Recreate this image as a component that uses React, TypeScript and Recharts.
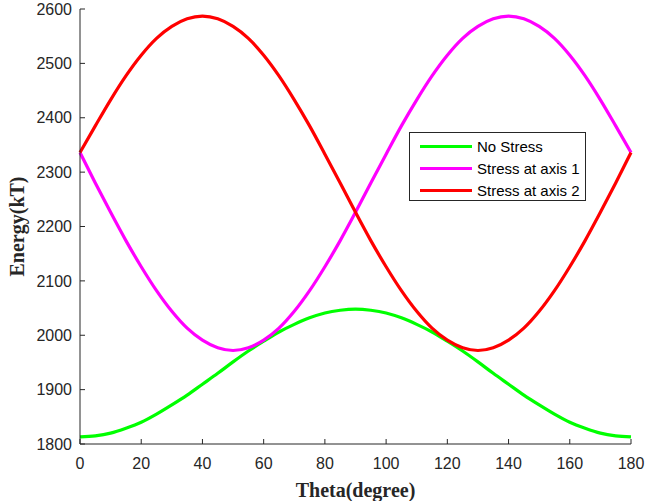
import React from "react";
import { LineChart, Line, XAxis, YAxis, Legend } from "recharts";

// theta in degrees, sampled every 5 degrees
const thetas = [
  0, 5, 10, 15, 20, 25, 30, 35, 40, 45, 50, 55, 60, 65, 70, 75, 80, 85, 90,
  95, 100, 105, 110, 115, 120, 125, 130, 135, 140, 145, 150, 155, 160, 165,
  170, 175, 180,
];

const noStress = [
  1813, 1815, 1820, 1829, 1840, 1855, 1872, 1890, 1910, 1930, 1951, 1971,
  1989, 2006, 2020, 2032, 2041, 2046, 2048, 2046, 2041, 2032, 2020, 2006,
  1989, 1971, 1951, 1930, 1910, 1890, 1872, 1855, 1840, 1829, 1820, 1815,
  1813,
];

const stressAxis1 = [
  2336, 2280, 2226, 2174, 2126, 2082, 2044, 2013, 1991, 1977, 1972, 1977,
  1991, 2013, 2044, 2082, 2126, 2174, 2226, 2280, 2333, 2385, 2433, 2477,
  2515, 2546, 2568, 2582, 2587, 2582, 2568, 2546, 2515, 2477, 2433, 2385,
  2336,
];

const stressAxis2 = [
  2336, 2385, 2433, 2477, 2515, 2546, 2568, 2582, 2587, 2582, 2568, 2546,
  2515, 2477, 2433, 2385, 2333, 2280, 2226, 2174, 2126, 2082, 2044, 2013,
  1991, 1977, 1972, 1977, 1991, 2013, 2044, 2082, 2126, 2174, 2226, 2280,
  2336,
];

const xTicks = [0, 20, 40, 60, 80, 100, 120, 140, 160, 180];
const yTicks = [1800, 1900, 2000, 2100, 2200, 2300, 2400, 2500, 2600];

const seriesNames = ["No Stress", "Stress at axis 1", "Stress at axis 2"];
const seriesColors = ["#00ff00", "#ff00ff", "#ff0000"];

const data = thetas.map((t, i) => ({
  theta: t,
  none: noStress[i],
  ax1: stressAxis1[i],
  ax2: stressAxis2[i],
}));

const axisColor = "#262626";
const tickFont = {
  fontFamily: "'Liberation Sans', Arial, sans-serif",
  fontSize: 16,
  fill: "#262626",
};
const labelFont = {
  fontFamily: "'Liberation Serif', 'Times New Roman', serif",
  fontWeight: "bold",
  fontSize: 20,
  fill: "#262626",
};

function BoxLegend() {
  return (
    <div
      style={{
        border: "1px solid #262626",
        background: "#fff",
        width: 177,
        height: 69,
        boxSizing: "border-box",
        paddingTop: 3,
        fontFamily: "'Liberation Sans', Arial, sans-serif",
        fontSize: 15,
        color: "#000",
      }}
    >
      {seriesNames.map((n, i) => (
        <div
          key={n}
          style={{ display: "flex", alignItems: "center", height: 21.7 }}
        >
          <div
            style={{
              width: 52,
              height: 3,
              background: seriesColors[i],
              marginLeft: 10,
              marginRight: 5,
            }}
          />
          <span>{n}</span>
        </div>
      ))}
    </div>
  );
}

export default function App() {
  return (
    <div style={{ position: "absolute", left: 0, top: 0, background: "#fff" }}>
      <LineChart
        width={647}
        height={501}
        data={data}
        margin={{ top: 9, right: 16, bottom: 0, left: 0 }}
      >
        <XAxis
          dataKey="theta"
          type="number"
          domain={[0, 180]}
          ticks={xTicks}
          interval={0}
          tick={tickFont}
          tickSize={-5}
          tickMargin={19}
          stroke={axisColor}
          height={57}
          label={{
            value: "Theta(degree)",
            position: "insideBottom",
            offset: 4,
            style: labelFont,
          }}
        />
        <XAxis
          xAxisId="top"
          dataKey="theta"
          type="number"
          orientation="top"
          domain={[0, 180]}
          ticks={xTicks}
          interval={0}
          tick={false}
          tickSize={-5}
          stroke={axisColor}
          height={0}
        />
        <YAxis
          type="number"
          domain={[1800, 2600]}
          ticks={yTicks}
          interval={0}
          tick={tickFont}
          tickSize={-5}
          tickMargin={13}
          stroke={axisColor}
          width={80}
          label={{
            value: "Energy(kT)",
            angle: -90,
            position: "insideLeft",
            offset: 17,
            style: { ...labelFont, textAnchor: "middle" },
          }}
        />
        <YAxis
          yAxisId="right"
          type="number"
          orientation="right"
          domain={[1800, 2600]}
          ticks={yTicks}
          interval={0}
          tick={false}
          tickSize={-5}
          stroke={axisColor}
          width={0}
        />
        <Line
          type="monotone"
          dataKey="none"
          name={seriesNames[0]}
          stroke={seriesColors[0]}
          strokeWidth={3.2}
          dot={false}
          isAnimationActive={false}
        />
        <Line
          type="monotone"
          dataKey="ax1"
          name={seriesNames[1]}
          stroke={seriesColors[1]}
          strokeWidth={3.2}
          dot={false}
          isAnimationActive={false}
        />
        <Line
          type="monotone"
          dataKey="ax2"
          name={seriesNames[2]}
          stroke={seriesColors[2]}
          strokeWidth={3.2}
          dot={false}
          isAnimationActive={false}
        />
        <Legend
          layout="vertical"
          align="center"
          verticalAlign="middle"
          content={() => <BoxLegend />}
          wrapperStyle={{ position: "absolute", left: 409, top: 132, width: 177 }}
        />
      </LineChart>
    </div>
  );
}
